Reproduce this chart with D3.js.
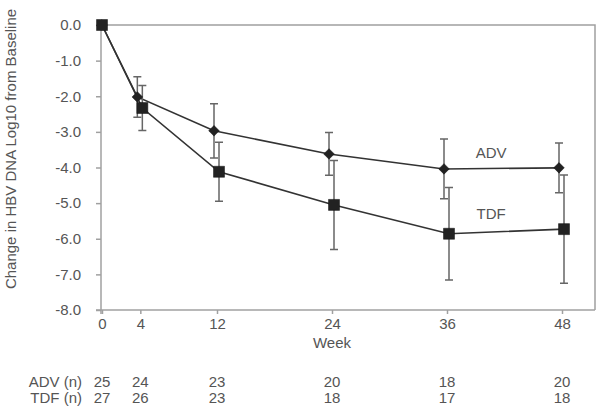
<!DOCTYPE html>
<html>
<head>
<meta charset="utf-8">
<script src="https://cdn.jsdelivr.net/npm/d3@7"></script>
<style>
  html, body { margin: 0; padding: 0; background: #fff; }
  svg { display: block; font-family: "Liberation Sans", Arial, Helvetica, sans-serif; }
</style>
</head>
<body>
<svg id="chart" width="600" height="410"></svg>
<script>
// ---- data ----
const weeks = [0, 4, 12, 24, 36, 48];
const advMean = [0, -2.02, -2.97, -3.62, -4.04, -4.01];
const advErr  = [0, 0.57, 0.76, 0.60, 0.84, 0.70];
const tdfMean = [0, -2.33, -4.12, -5.05, -5.86, -5.73];
const tdfErr  = [0, 0.63, 0.83, 1.25, 1.30, 1.52];
const advN = [25, 24, 23, 20, 18, 20];
const tdfN = [27, 26, 23, 18, 17, 18];
const yTicks = [0, -1, -2, -3, -4, -5, -6, -7, -8];
const xTicks = [0, 4, 12, 24, 36, 48];

(function () {
// ---- layout ----
const svg = d3.select("#chart");
const pLeft = 101, pRight = 595, pTop = 25, pBottom = 310;
const x = d3.scaleLinear().domain([0, 48]).range([102, 562]);
const y = d3.scaleLinear().domain([-8, 0]).range([pBottom, pTop]);
const axisCol = "#a0a0a0", textCol = "#555", lineCol = "#333", markCol = "#222", errCol = "#666";
const fs = "15px";

// frame (top + right)
svg.append("path")
  .attr("d", `M${pLeft},${pTop}H${pRight}V${pBottom}`)
  .attr("fill", "none").attr("stroke", axisCol).attr("stroke-width", 1.5);

// y axis
const yAxis = svg.append("g").attr("transform", `translate(${pLeft},0)`)
  .call(d3.axisLeft(y).tickValues(yTicks).tickFormat(d => d.toFixed(1)).tickSize(5).tickPadding(15));
// x axis
const xAxis = svg.append("g").attr("transform", `translate(0,${pBottom})`)
  .call(d3.axisBottom(x).tickValues(xTicks).tickFormat(d3.format("d")).tickSize(4).tickPadding(4));
[yAxis, xAxis].forEach(g => {
  g.select(".domain").remove();
  g.selectAll("line").attr("stroke", axisCol).attr("stroke-width", 1.5);
  g.selectAll("text").attr("fill", textCol).style("font-size", fs);
});
// axis lines
svg.append("line").attr("x1", pLeft).attr("x2", pLeft).attr("y1", pTop).attr("y2", pBottom + 4)
  .attr("stroke", axisCol).attr("stroke-width", 1.5);
svg.append("line").attr("x1", pLeft - 5).attr("x2", pRight).attr("y1", pBottom).attr("y2", pBottom)
  .attr("stroke", axisCol).attr("stroke-width", 1.5);

// axis titles
svg.append("text").attr("x", x(24)).attr("y", 348).attr("text-anchor", "middle")
  .attr("fill", textCol).style("font-size", fs).text("Week");
svg.append("text").attr("transform", "translate(16,149) rotate(-90)").attr("text-anchor", "middle")
  .attr("fill", textCol).style("font-size", fs).text("Change in HBV DNA Log10 from Baseline");

// series
const series = [
  { name: "ADV", mean: advMean, err: advErr, dx: -3, shape: "diamond" },
  { name: "TDF", mean: tdfMean, err: tdfErr, dx: 2, shape: "square" }
];
const px = (s, i) => x(weeks[i]) + (weeks[i] > 0 ? s.dx : 0);

series.forEach(s => {
  const idx = d3.range(weeks.length);
  // error bars
  const eb = svg.append("g").attr("stroke", errCol).attr("stroke-width", 1.5).attr("fill", "none");
  idx.filter(i => s.err[i] > 0).forEach(i => {
    const cx = px(s, i), y1 = y(s.mean[i] + s.err[i]), y2 = y(s.mean[i] - s.err[i]);
    eb.append("path").attr("d", `M${cx},${y1}V${y2}M${cx - 4},${y1}H${cx + 4}M${cx - 4},${y2}H${cx + 4}`);
  });
  // line
  svg.append("path")
    .datum(idx)
    .attr("fill", "none").attr("stroke", lineCol).attr("stroke-width", 1.6)
    .attr("d", d3.line().x(i => px(s, i)).y(i => y(s.mean[i])));
});

// markers (ADV first, TDF on top)
series.forEach(s => {
  const idx = d3.range(weeks.length);
  const sym = s.shape === "square"
    ? d3.symbol().type(d3.symbolSquare).size(121)
    : d3.symbol().type(d3.symbolSquare).size(56);
  svg.append("g").selectAll("path").data(idx).join("path")
    .attr("d", sym)
    .attr("transform", i => `translate(${px(s, i)},${y(s.mean[i])})` + (s.shape === "diamond" ? " rotate(45)" : ""))
    .attr("fill", markCol).attr("stroke", "#111").attr("stroke-width", 0.5);
});

// series labels
svg.append("text").attr("x", x(40.6)).attr("y", 158).attr("text-anchor", "middle")
  .attr("fill", textCol).style("font-size", fs).text("ADV");
svg.append("text").attr("x", x(40.6)).attr("y", 219).attr("text-anchor", "middle")
  .attr("fill", textCol).style("font-size", fs).text("TDF");

// n rows
const rows = [{ label: "ADV (n)", vals: advN, yy: 387 }, { label: "TDF (n)", vals: tdfN, yy: 403 }];
rows.forEach(r => {
  svg.append("text").attr("x", 82).attr("y", r.yy).attr("text-anchor", "end")
    .attr("fill", textCol).style("font-size", fs).text(r.label);
  svg.append("g").selectAll("text").data(weeks).join("text")
    .attr("x", d => x(d)).attr("y", r.yy).attr("text-anchor", "middle")
    .attr("fill", textCol).style("font-size", fs)
    .text((d, i) => r.vals[i]);
});
})();
</script>
</body>
</html>
